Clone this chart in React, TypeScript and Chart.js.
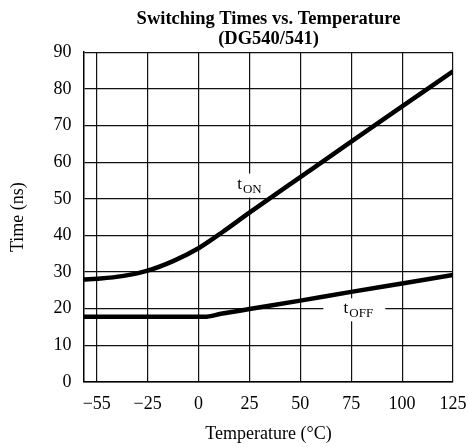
import React, { useEffect, useRef } from 'react';
import { Chart, registerables } from 'chart.js';

Chart.register(...registerables);

// X axis tick temperatures (°C) – drawn equally spaced as in the original figure
const xTicks = [-55, -25, 0, 25, 50, 75, 100, 125];
const yMin = 0;
const yMax = 90;
const yStep = 10;

// tON series
const tOnTemps = [-62.5, -55, -40, -25, -12.5, 0, 12, 25, 50, 75, 100, 125];
const tOnValues = [28.0, 28.2, 28.9, 30.4, 33.0, 36.5, 41.0, 46.2, 55.9, 65.6, 75.2, 84.8];

// tOFF series
const tOffTemps = [-62.5, -25, 3, 11, 25, 50, 75, 100, 125];
const tOffValues = [17.8, 17.8, 17.8, 18.6, 19.9, 22.2, 24.6, 26.9, 29.2];

const titleLines = ['Switching Times vs. Temperature', '(DG540/541)'];
const xTitle = 'Temperature (°C)';
const yTitle = 'Time (ns)';

// Curve labels: subscript text, anchor temperature, anchor value
const curveLabels = [
  { sub: 'ON', temp: 25, value: 53.6, boxW: 36, boxH: 24, boxDx: 0 },
  { sub: 'OFF', temp: 78.5, value: 19.7, boxW: 62, boxH: 23, boxDx: -4 },
];

const SERIF = "'Liberation Serif', 'Times New Roman', Times, serif";

function tempToPos(t: number): number {
  const n = xTicks.length;
  if (t <= xTicks[0]) return (t - xTicks[0]) / (xTicks[1] - xTicks[0]);
  for (let i = 0; i < n - 1; i++) {
    if (t <= xTicks[i + 1]) return i + (t - xTicks[i]) / (xTicks[i + 1] - xTicks[i]);
  }
  return n - 1 + (t - xTicks[n - 1]) / (xTicks[n - 1] - xTicks[n - 2]);
}

const labelPlugin = {
  id: 'curveLabels',
  beforeDatasetsDraw(chart: any) {
    const { ctx, scales } = chart;
    const xs = scales.x;
    const ys = scales.y;
    ctx.save();
    curveLabels.forEach((l) => {
      const cx = xs.getPixelForValue(tempToPos(l.temp));
      const cy = ys.getPixelForValue(l.value);
      ctx.fillStyle = '#ffffff';
      ctx.fillRect(cx + l.boxDx - l.boxW / 2, cy - l.boxH / 2, l.boxW, l.boxH);
      ctx.font = `17px ${SERIF}`;
      const tw = ctx.measureText('t').width;
      ctx.font = `13px ${SERIF}`;
      const sw = ctx.measureText(l.sub).width;
      const total = tw + 1 + sw;
      const x0 = cx - total / 2;
      ctx.fillStyle = '#000';
      ctx.textBaseline = 'alphabetic';
      ctx.textAlign = 'left';
      ctx.font = `17px ${SERIF}`;
      ctx.fillText('t', x0, cy + 3);
      ctx.font = `13px ${SERIF}`;
      ctx.fillText(l.sub, x0 + tw + 1, cy + 7);
    });
    ctx.restore();
  },
};

export default function App() {
  const canvasRef = useRef<HTMLCanvasElement | null>(null);

  useEffect(() => {
    if (!canvasRef.current) return;
    const tickPositions = xTicks.map((_, i) => i);
    const chart = new Chart(canvasRef.current, {
      type: 'line',
      data: {
        datasets: [
          {
            label: 'tON',
            data: tOnTemps.map((t, i) => ({ x: tempToPos(t), y: tOnValues[i] })),
            borderColor: '#000',
            borderWidth: 4.5,
            pointRadius: 0,
            cubicInterpolationMode: 'monotone',
            fill: false,
          },
          {
            label: 'tOFF',
            data: tOffTemps.map((t, i) => ({ x: tempToPos(t), y: tOffValues[i] })),
            borderColor: '#000',
            borderWidth: 4.5,
            pointRadius: 0,
            cubicInterpolationMode: 'monotone',
            fill: false,
          },
        ],
      },
      options: {
        animation: false,
        responsive: true,
        maintainAspectRatio: false,
        layout: { padding: { top: 0, right: 15, bottom: 0, left: 0 } },
        plugins: {
          legend: { display: false },
          tooltip: { enabled: false },
          title: {
            display: true,
            fullSize: false,
            text: titleLines,
            color: '#000',
            font: { family: SERIF, size: 18.5, weight: 'bold', lineHeight: 1.1 },
            padding: { top: 9, bottom: 2.5 },
          },
        },
        scales: {
          x: {
            type: 'linear',
            min: tempToPos(-62.5),
            max: xTicks.length - 1,
            afterBuildTicks: (scale: any) => {
              scale.ticks = tickPositions.map((v) => ({ value: v }));
            },
            afterFit: (scale: any) => {
              scale.height = 65;
              scale.paddingRight = 0;
              scale.paddingLeft = 0;
            },
            ticks: {
              autoSkip: false,
              maxRotation: 0,
              color: '#000',
              padding: 11.5,
              font: { family: SERIF, size: 18 },
              callback: (v: any) => {
                const idx = Math.round(Number(v));
                const t = xTicks[idx];
                if (t === undefined) return '';
                return t < 0 ? '\u2212' + Math.abs(t) : String(t);
              },
            },
            grid: { color: '#111', lineWidth: 1.2, drawTicks: false },
            border: { display: true, color: '#000', width: 1.5 },
            title: {
              display: true,
              text: xTitle,
              color: '#000',
              font: { family: SERIF, size: 18 },
              padding: { top: 0, bottom: 1.7 },
            },
          },
          y: {
            type: 'linear',
            min: yMin,
            max: yMax,
            afterFit: (scale: any) => {
              scale.width = 84;
            },
            ticks: {
              stepSize: yStep,
              color: '#000',
              padding: 12.5,
              font: { family: SERIF, size: 18 },
            },
            grid: { color: '#111', lineWidth: 1.2, drawTicks: false },
            border: { display: true, color: '#000', width: 1.5 },
            title: {
              display: true,
              text: yTitle,
              color: '#000',
              font: { family: SERIF, size: 18 },
              padding: { top: 7.7, bottom: 0 },
            },
          },
        },
      },
      plugins: [labelPlugin],
    } as any);
    return () => chart.destroy();
  }, []);

  return (
    <div style={{ position: 'fixed', left: 0, top: 0, width: 468, height: 447, background: '#fff' }}>
      <canvas ref={canvasRef} />
    </div>
  );
}
